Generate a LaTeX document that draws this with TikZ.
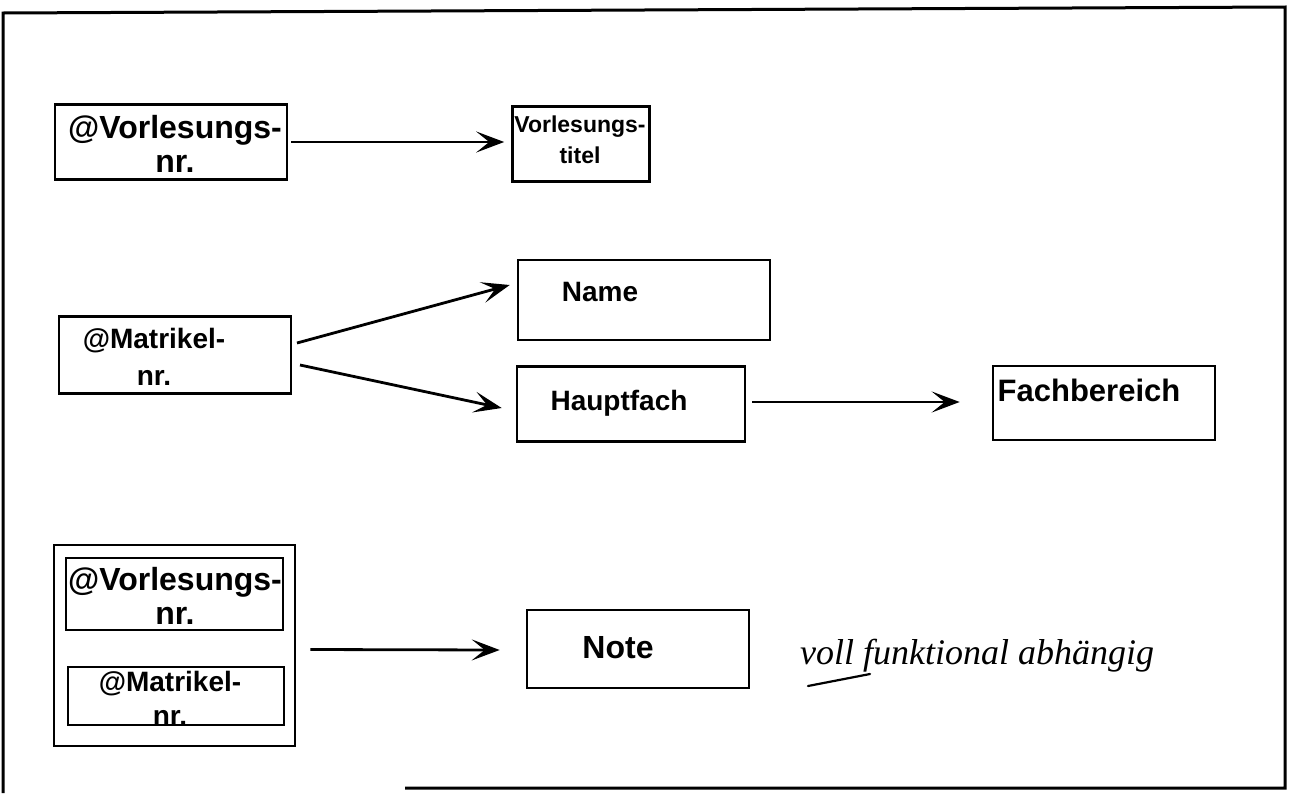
\documentclass[tikz,border=0pt]{standalone}
\usepackage{fontspec}
\setmainfont{Liberation Sans}
\newfontfamily\handfont{Liberation Serif}
\usetikzlibrary{arrows.meta}
\tikzset{
  box/.style={draw, line width=2.6pt, inner sep=0pt},
  lbl/.style={font=\fontsize{#1}{34}\selectfont\bfseries, align=center, inner sep=0pt},
  lbl/.default=28,
  small/.style={font=\fontsize{23}{31}\selectfont\bfseries, align=center, inner sep=0pt},
  arr/.style={line width=2.8pt, -{Stealth[length=28pt,width=21pt,inset=13pt]}},
  frame/.style={line width=3pt}
}
\begin{document}
\begin{tikzpicture}[x=1pt,y=-1pt]
\useasboundingbox (0,0) rectangle (1290,793);
% outer frame
\draw[frame] (3,793) -- (3,13) -- (1285,7) -- (1285,788) -- (405,788);

% boxes
\node[box, minimum width=232pt, minimum height=75pt] (vnr) at (171,142) {};
\node[lbl=32] (vnrT) at (175,144) {@Vorlesungs-\\nr.};

\node[box, minimum width=137pt, minimum height=75pt] (vt) at (581,144) {};
\node[small] (vtT) at (580,140) {Vorlesungs-\\titel};

\node[box, minimum width=232pt, minimum height=77pt] (mnr) at (175,355) {};
\node[lbl=28, font=\fontsize{28}{37}\selectfont\bfseries] (mnrT) at (154,357) {@Matrikel-\\nr.};

\node[box, minimum width=252pt, minimum height=80pt] (name) at (644,300) {};
\node[lbl=28] (nameT) at (600,292) {Name};

\node[box, minimum width=228pt, minimum height=75pt] (haupt) at (631,404) {};
\node[lbl=28] (hauptT) at (619,403) {Hauptfach};

\node[box, minimum width=222pt, minimum height=74pt] (fach) at (1104,403) {};
\node[lbl=31] (fachT) at (1089,390) {Fachbereich};

% composite key
\node[box, minimum width=241pt, minimum height=201pt] (comp) at (174.5,645.5) {};
\node[box, minimum width=217pt, minimum height=72pt] (cv) at (174.5,594) {};
\node[lbl=32] (cvT) at (175,596) {@Vorlesungs-\\nr.};
\node[box, minimum width=216pt, minimum height=58pt] (cm) at (176,696) {};
\node[lbl=28] (cmT) at (170,698) {@Matrikel-\\nr.};

\node[box, minimum width=222pt, minimum height=78pt] (note) at (638,649) {};
\node[lbl=32] (noteT) at (618,648) {Note};

% arrows
\draw[arr] (vnr.east) ++(3,0) -- ([xshift=-7pt]vt.west |- 0,142);
\coordinate (m1) at (297,343);
\coordinate (m2) at (300,365);
\draw[arr] (m1) -- ([xshift=-7pt]name.west |- 0,285);
\draw[arr] (m2) -- ([xshift=-14pt]haupt.west |- 0,408);
\draw[arr] (haupt.east) ++(6,-2) -- ([xshift=-32pt]fach.west |- 0,402);
\draw[arr] (comp.east) ++(14,4) -- ([xshift=-26pt]note.west |- 0,650);

% handwritten remark
\node[font=\handfont\itshape\fontsize{36}{40}\selectfont, anchor=base west, inner sep=0pt] (hw) at (800,664) {voll funktional abh\"angig};
\coordinate (u1) at (808,686);
\coordinate (u2) at (870,674);
\draw[line width=2.2pt, line cap=round] (u1) -- (u2);
\end{tikzpicture}
\end{document}
